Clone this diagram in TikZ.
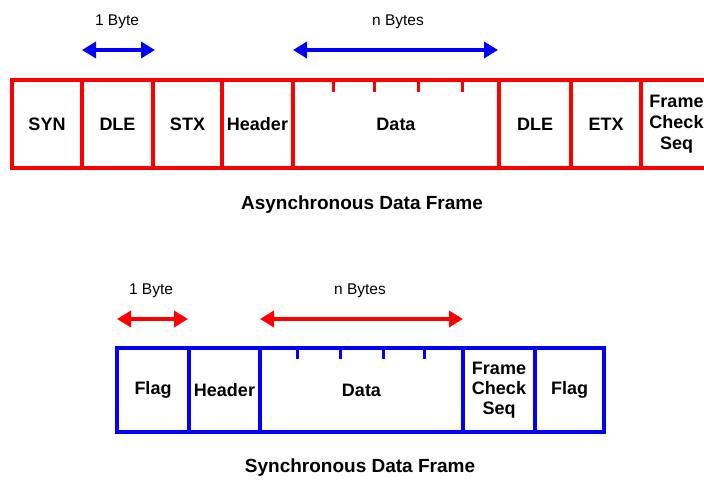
\documentclass[tikz,border=0pt]{standalone}
\usepackage{fontspec}
\setmainfont{Liberation Sans}
\usetikzlibrary{arrows.meta}
\definecolor{fred}{RGB}{255,0,0}
\definecolor{fblue}{RGB}{0,0,255}
\tikzset{
  acell/.style={draw=fred, line width=4pt, inner sep=0pt, font=\bfseries\fontsize{18}{21}\selectfont, align=center},
  scell/.style={draw=fblue, line width=4pt, inner sep=0pt, font=\bfseries\fontsize{18}{20}\selectfont, align=center},
  lbl/.style={font=\fontsize{15.5}{18}\selectfont},
  captext/.style={font=\bfseries\fontsize{19}{22}\selectfont},
  barrow/.style={draw=fblue, line width=4pt, {Triangle[length=14pt,width=16pt]}-{Triangle[length=14pt,width=16pt]}},
  rarrow/.style={draw=fred, line width=4pt, {Triangle[length=14pt,width=16pt]}-{Triangle[length=14pt,width=16pt]}},
  atick/.style={draw=fred, line width=3pt},
  stick/.style={draw=fblue, line width=3pt},
}
\begin{document}
\begin{tikzpicture}[x=1pt,y=-1pt]
\clip (0,0) rectangle (704,481);
\fill[white] (0,0) rectangle (704,481);
% top frame cells (x boundaries 12,82,153,222,293,499,571,641,712; y 80-168)
\node[acell, minimum width=70pt, minimum height=88pt] (syn) at (47,124) {SYN};
\node[acell, minimum width=71pt, minimum height=88pt] (dle1) at (117.5,124) {DLE};
\node[acell, minimum width=69pt, minimum height=88pt] (stx) at (187.5,124) {STX};
\node[acell, minimum width=71pt, minimum height=88pt] (hdr1) at (257.5,124) {Header};
\node[acell, minimum width=206pt, minimum height=88pt] (data1) at (396,124) {Data};
\node[acell, minimum width=72pt, minimum height=88pt] (dle2) at (535,124) {DLE};
\node[acell, minimum width=70pt, minimum height=88pt] (etx) at (606,124) {ETX};
\node[acell, minimum width=71pt, minimum height=88pt] (fcs1) at (676.5,124) {Frame\\Check\\Seq};
% ticks in top data
\foreach \tx in {333,374,418,462} \draw[atick] (\tx,80) -- (\tx,92);
% top labels and arrows
\coordinate (ta1) at (82,50);
\coordinate (tb1) at (155,50);
\coordinate (ta2) at (293,50);
\coordinate (tb2) at (498,50);
\draw[barrow] (ta1) -- (tb1);
\draw[barrow] (ta2) -- (tb2);
\node[lbl] (tl1) at (117,22) {1 Byte};
\node[lbl] (tl2) at (398,22) {n Bytes};
\node[captext] (tcap) at (362,205) {Asynchronous Data Frame};
% bottom frame cells (x 117,189,260,463,535,604; y 348-432)
\node[scell, minimum width=72pt, minimum height=84pt] (flag1) at (153,390) {Flag};
\node[scell, minimum width=71pt, minimum height=84pt] (hdr2) at (224.5,390) {Header};
\node[scell, minimum width=203pt, minimum height=84pt] (data2) at (361.5,390) {Data};
\node[scell, minimum width=72pt, minimum height=84pt] (fcs2) at (499,390) {Frame\\Check\\Seq};
\node[scell, minimum width=69pt, minimum height=84pt] (flag2) at (569.5,390) {Flag};
\foreach \tx in {297,340,383,424} \draw[stick] (\tx,348) -- (\tx,359);
\coordinate (ba1) at (117,319);
\coordinate (bb1) at (188,319);
\coordinate (ba2) at (260,319);
\coordinate (bb2) at (463,319);
\draw[rarrow] (ba1) -- (bb1);
\draw[rarrow] (ba2) -- (bb2);
\node[lbl] (bl1) at (151,291) {1 Byte};
\node[lbl] (bl2) at (360,291) {n Bytes};
\node[captext] (bcap) at (360,468) {Synchronous Data Frame};
\end{tikzpicture}
\end{document}
